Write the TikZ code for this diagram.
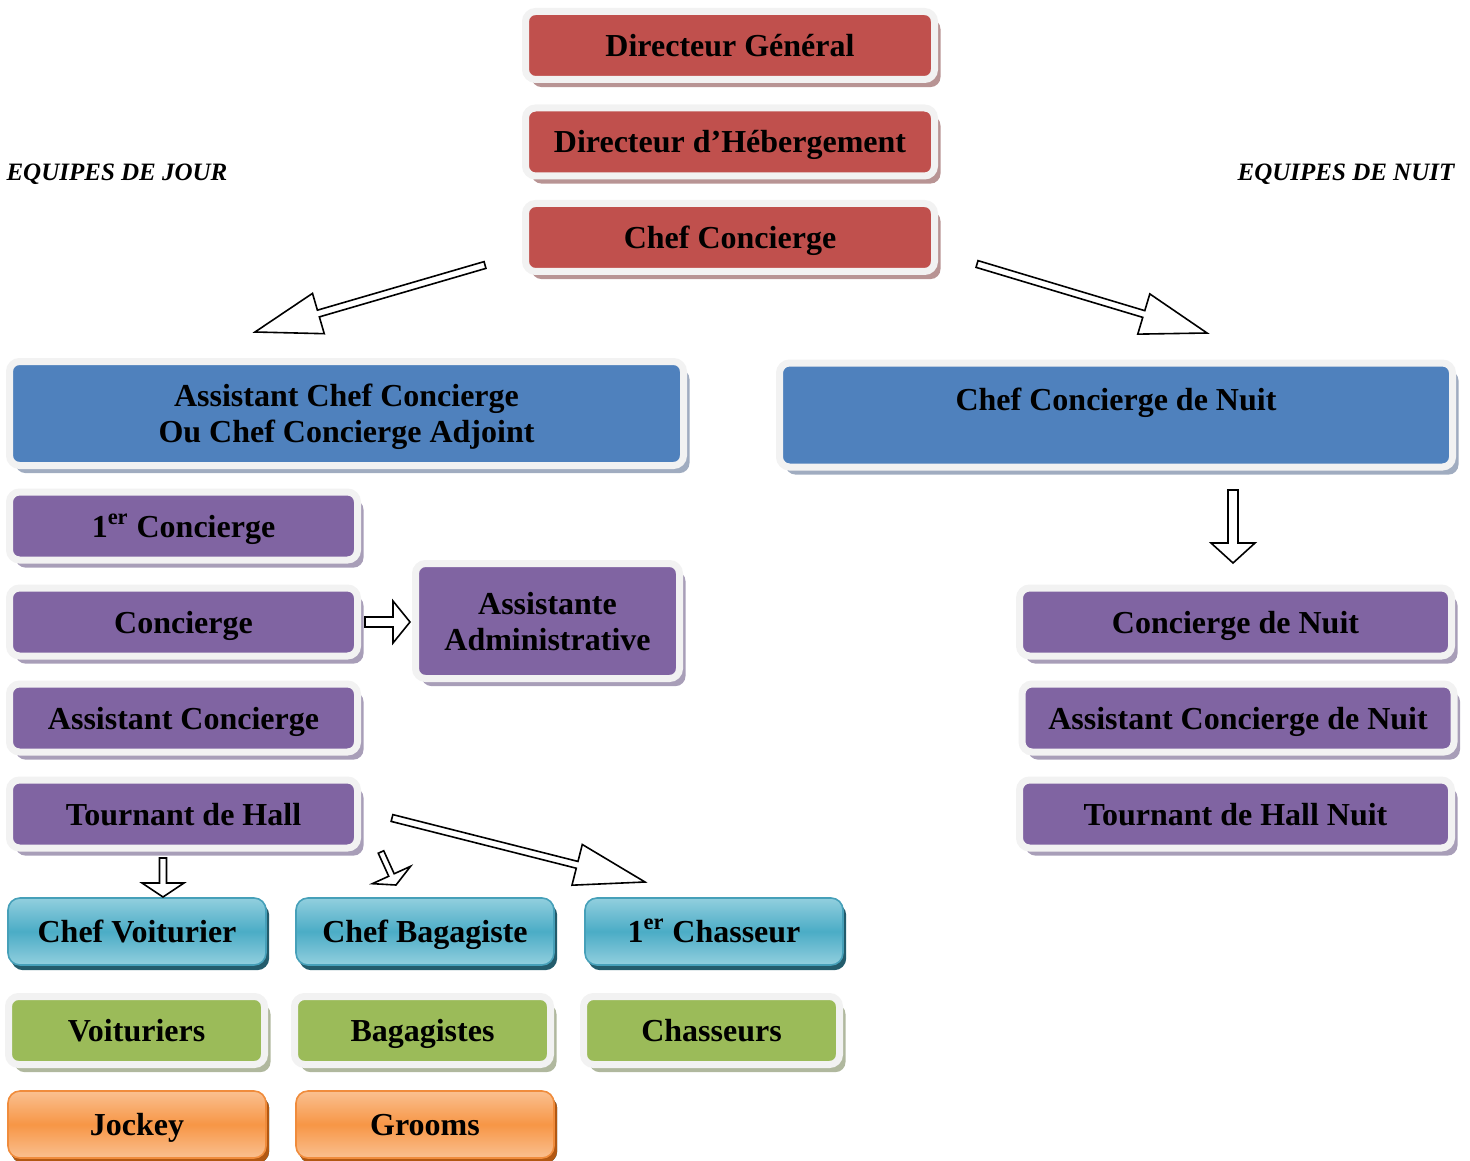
\documentclass[tikz,border=0pt]{standalone}
\usepackage{fontspec}
\setmainfont{Liberation Serif}
\usepackage{tikz}
\usetikzlibrary{calc,shadows}

\definecolor{rim}{RGB}{242,242,242}
\definecolor{dirred}{RGB}{192,80,77}
\definecolor{redshade}{RGB}{184,148,148}
\definecolor{chefblue}{RGB}{79,129,189}
\definecolor{blueshade}{RGB}{160,172,192}
\definecolor{conspurple}{RGB}{128,100,162}
\definecolor{purpleshade}{RGB}{168,158,184}
\definecolor{valgreen}{RGB}{155,187,89}
\definecolor{greenshade}{RGB}{176,184,158}
\definecolor{cyantop}{RGB}{146,207,222}
\definecolor{cyanmid}{RGB}{75,172,198}
\definecolor{cyanedge}{RGB}{70,160,185}
\definecolor{cyanshade}{RGB}{35,92,108}
\definecolor{orangetop}{RGB}{250,192,144}
\definecolor{orangemid}{RGB}{247,150,70}
\definecolor{orangeedge}{RGB}{240,140,60}
\definecolor{orangeshade}{RGB}{178,88,18}

% block arrow between two named points: from, to, shaft half width, head length, head half width
\newcommand{\blockarrow}[5]{%
  \draw[blockarr] let \p1=($(#2)-(#1)$), \n1={atan2(\y1,\x1)}, \n2={veclen(\x1,\y1)-#4} in
    ($(#1)+(\n1-90:#3)$) -- ($(#1)+(\n1:\n2)+(\n1-90:#3)$) -- ($(#1)+(\n1:\n2)+(\n1-90:#5)$)
    -- (#2) -- ($(#1)+(\n1:\n2)+(\n1+90:#5)$) -- ($(#1)+(\n1:\n2)+(\n1+90:#3)$)
    -- ($(#1)+(\n1+90:#3)$) -- cycle;}

\begin{document}
\begin{tikzpicture}[x=0.5pt, y=-0.5pt,
    box/.style={rectangle, rounded corners=5pt, draw=rim, line width=3.5pt, inner sep=0pt, align=center,
        text height=11pt, text depth=0pt, font=\fontsize{16}{18}\selectfont\bfseries},
    twolines/.style={text height=29pt, text depth=0pt},
    redbox/.style={box, fill=dirred, minimum width=204.5pt, minimum height=34pt,
        drop shadow={shadow xshift=3pt, shadow yshift=-3.8pt, fill=redshade, opacity=1}},
    bluebox/.style={box, fill=chefblue, minimum width=337pt, minimum height=52pt,
        drop shadow={shadow xshift=3pt, shadow yshift=-3.8pt, fill=blueshade, opacity=1}},
    purplebox/.style={box, fill=conspurple, minimum width=174pt, minimum height=34pt,
        drop shadow={shadow xshift=3pt, shadow yshift=-3.8pt, fill=purpleshade, opacity=1}},
    greenbox/.style={box, fill=valgreen, minimum width=128pt, minimum height=34pt,
        drop shadow={shadow xshift=3pt, shadow yshift=-3.8pt, fill=greenshade, opacity=1}},
    cyanbox/.style={rectangle, rounded corners=6pt, draw=cyanedge, line width=0.8pt, inner sep=0pt,
        minimum width=129pt, minimum height=33.5pt, text height=11pt, text depth=0pt,
        font=\fontsize{16}{18}\selectfont\bfseries,
        top color=cyantop, bottom color=cyantop, middle color=cyanmid,
        drop shadow={shadow xshift=1.6pt, shadow yshift=-2.6pt, fill=cyanshade, opacity=1}},
    orangebox/.style={cyanbox, draw=orangeedge, top color=orangetop, bottom color=orangetop, middle color=orangemid,
        drop shadow={shadow xshift=1.6pt, shadow yshift=-2.6pt, fill=orangeshade, opacity=1}},
    teamlbl/.style={font=\fontsize{12.5}{14}\selectfont\bfseries\itshape},
    blockarr/.style={draw=black, fill=white, line width=0.8pt, line join=miter}
]
\useasboundingbox (0,0) rectangle (1470,1160);

% Direction
\node[redbox] (dg) at (730,45.5) {Directeur Général};
\node[redbox] (dh) at (730,142) {Directeur d’Hébergement};
\node[redbox] (cc) at (730,237.5) {Chef Concierge};

% Team titles
\node[teamlbl] (jour) at (117,174) {EQUIPES DE JOUR};
\node[teamlbl] (nuit) at (1346,174) {EQUIPES DE NUIT};

% Day team
\node[bluebox, twolines] (acc) at (346.5,413.5) {Assistant Chef Concierge\\Ou Chef Concierge Adjoint};
\node[purplebox] (premier) at (183.5,526) {1\textsuperscript{er} Concierge};
\node[purplebox] (concierge) at (183.5,622) {Concierge};
\node[purplebox] (assc) at (183.5,718) {Assistant Concierge};
\node[purplebox] (tdh) at (183.5,814) {Tournant de Hall};
\node[purplebox, twolines, minimum width=132pt, minimum height=57.5pt] (admin) at (547.5,621) {Assistante\\Administrative};

% Night team
\node[bluebox, minimum width=336.5pt, text height=0pt, text depth=4.5pt] (ccn) at (1116,415) {Chef Concierge de Nuit};
\node[purplebox, minimum width=216pt] (cn) at (1235.5,622) {Concierge de Nuit};
\node[purplebox, minimum width=216pt] (acn) at (1238,718) {Assistant Concierge de Nuit};
\node[purplebox, minimum width=216pt] (tdhn) at (1235.5,814) {Tournant de Hall Nuit};

% Hall staff
\node[cyanbox] (cv) at (137,931.5) {Chef Voiturier};
\node[cyanbox] (cb) at (425,931.5) {Chef Bagagiste};
\node[cyanbox] (pc) at (714,931.5) {1\textsuperscript{er} Chasseur};
\node[greenbox] (vt) at (136.5,1030.5) {Voituriers};
\node[greenbox] (bg) at (422.5,1030.5) {Bagagistes};
\node[greenbox] (ch) at (711.5,1030.5) {Chasseurs};
\node[orangebox] (jk) at (137,1124.5) {Jockey};
\node[orangebox] (gr) at (425,1124.5) {Grooms};

% Arrow ends
\coordinate (jourA) at (485,265);
\coordinate (jourB) at (255,332);
\coordinate (nuitA) at (977,264);
\coordinate (nuitB) at (1207,333);
\coordinate (cnA) at (1233,490);
\coordinate (cnB) at (1233,563);
\coordinate (admA) at (365,622);
\coordinate (admB) at (410,622);
\coordinate (cvA) at (163,858);
\coordinate (cvB) at (163,897);
\coordinate (cbA) at (381,852);
\coordinate (cbB) at (396,885);
\coordinate (pcA) at (392,818);
\coordinate (pcB) at (645,882);

% Arrows
\blockarrow{jourA}{jourB}{1.75pt}{33pt}{10.5pt}
\blockarrow{nuitA}{nuitB}{1.75pt}{33pt}{10.5pt}
\blockarrow{cnA}{cnB}{2.5pt}{10pt}{11pt}
\blockarrow{admA}{admB}{2.5pt}{8.5pt}{10.5pt}
\blockarrow{cvA}{cvB}{1.75pt}{7pt}{10.5pt}
\blockarrow{cbA}{cbB}{1.5pt}{5.5pt}{10.5pt}
\blockarrow{pcA}{pcB}{1.75pt}{35pt}{10.5pt}
\end{tikzpicture}
\end{document}
